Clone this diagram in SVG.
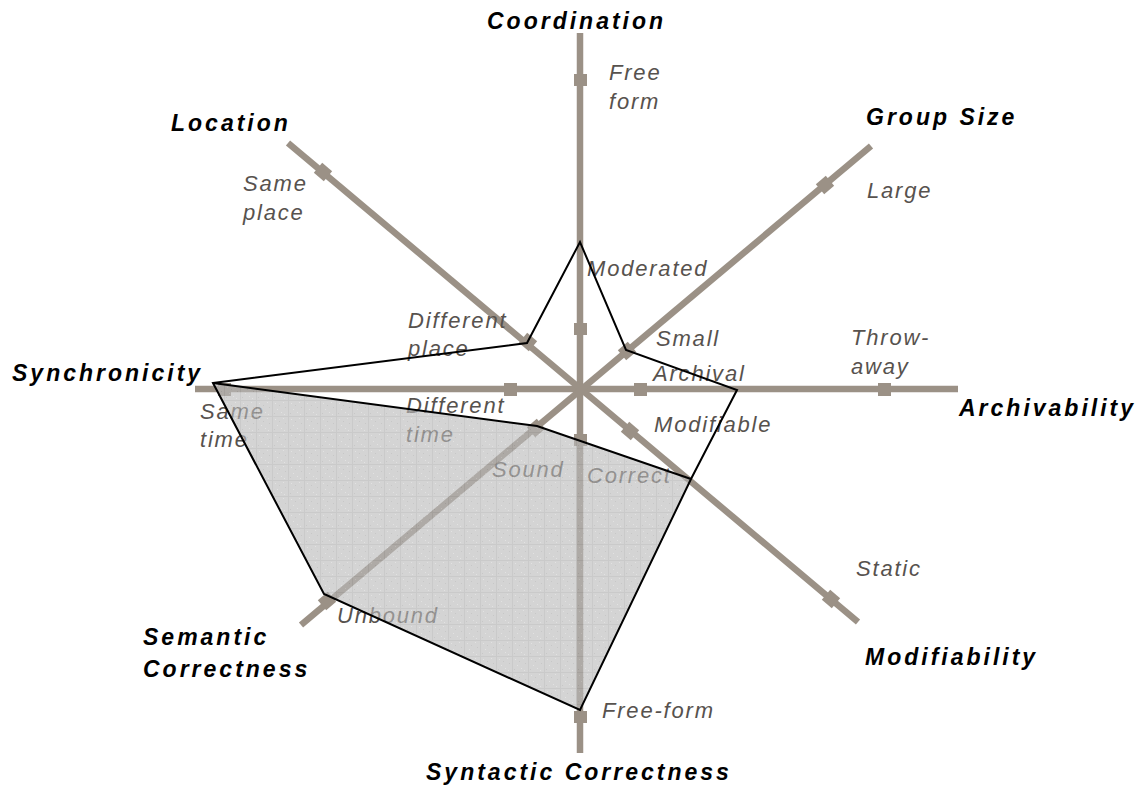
<svg xmlns="http://www.w3.org/2000/svg" width="1141" height="790" viewBox="0 0 1141 790">
  <defs>
    <style>
      .axis { stroke: #9b9186; stroke-width: 6.5; stroke-linecap: butt; fill: none; }
      .mk { fill: #9b9186; }
      .title { font-family: "Liberation Sans", Arial, sans-serif; font-size: 23px; font-weight: bold; font-style: italic; fill: #000; letter-spacing: 3px; }
      .val { font-family: "Liberation Sans", Arial, sans-serif; font-size: 22px; font-style: italic; fill: #57524e; letter-spacing: 1.8px; }
      .outline { fill: none; stroke: #000; stroke-width: 2; stroke-linejoin: miter; }
    </style>
    <pattern id="shade" x="0" y="0" width="16" height="16" patternUnits="userSpaceOnUse">
      <rect width="16" height="16" fill="#bababa"/>
      <rect width="16" height="1" fill="#a9a9a9"/>
      <rect width="1" height="16" fill="#a9a9a9"/>
      <rect x="3" y="3" width="1" height="1" fill="#d0d0d0"/>
      <rect x="7" y="5" width="1" height="1" fill="#a4a4a4"/>
      <rect x="11" y="2" width="1" height="1" fill="#d0d0d0"/>
      <rect x="5" y="9" width="1" height="1" fill="#d0d0d0"/>
      <rect x="13" y="7" width="1" height="1" fill="#a4a4a4"/>
      <rect x="9" y="12" width="1" height="1" fill="#d0d0d0"/>
      <rect x="2" y="13" width="1" height="1" fill="#a4a4a4"/>
      <rect x="12" y="14" width="1" height="1" fill="#d0d0d0"/>
    </pattern>
  </defs>

  <rect width="1141" height="790" fill="#fff"/>

  <!-- axes -->
  <g id="connectors">
    <line class="axis" x1="580" y1="33" x2="580" y2="753"/>
    <line class="axis" x1="195" y1="389" x2="958" y2="389"/>
    <line class="axis" x1="288" y1="143" x2="858" y2="622"/>
    <line class="axis" x1="871" y1="146" x2="301" y2="625"/>
  </g>

  <!-- axis markers -->
  <g id="markers">
    <rect class="mk" x="574" y="74" width="13" height="12"/>
    <rect class="mk" x="574" y="323" width="13" height="12"/>
    <rect class="mk" x="574" y="434" width="13" height="12"/>
    <rect class="mk" x="574" y="711" width="13" height="12"/>
    <rect class="mk" x="634" y="383" width="13" height="13"/>
    <rect class="mk" x="878" y="383" width="13" height="13"/>
    <rect class="mk" x="504" y="383" width="13" height="13"/>
    <rect class="mk" x="218" y="383" width="13" height="13"/>
    <rect class="mk" x="-6.5" y="-6.5" width="13" height="13" transform="translate(323,172) rotate(40)"/>
    <rect class="mk" x="-6.5" y="-6.5" width="13" height="13" transform="translate(528,342) rotate(40)"/>
    <rect class="mk" x="-6.5" y="-6.5" width="13" height="13" transform="translate(630,431) rotate(40)"/>
    <rect class="mk" x="-6.5" y="-6.5" width="13" height="13" transform="translate(831,599) rotate(40)"/>
    <rect class="mk" x="-6.5" y="-6.5" width="13" height="13" transform="translate(825,185) rotate(-40)"/>
    <rect class="mk" x="-6.5" y="-6.5" width="13" height="13" transform="translate(627,351) rotate(-40)"/>
    <rect class="mk" x="-6.5" y="-6.5" width="13" height="13" transform="translate(536,428) rotate(-40)"/>
    <rect class="mk" x="-6.5" y="-6.5" width="13" height="13" transform="translate(327,601) rotate(-40)"/>
  </g>

  <!-- axis titles -->
  <g id="titles">
    <text class="title" x="487" y="29">Coordination</text>
    <text class="title" x="171" y="131">Location</text>
    <text class="title" x="866" y="125">Group Size</text>
    <text class="title" x="12" y="381">Synchronicity</text>
    <text class="title" x="959" y="416">Archivability</text>
    <text class="title" x="143" y="645">Semantic</text>
    <text class="title" x="143" y="677">Correctness</text>
    <text class="title" x="865" y="665">Modifiability</text>
    <text class="title" x="426" y="780">Syntactic Correctness</text>
  </g>

  <!-- value labels -->
  <g id="values">
    <text class="val" x="609" y="80">Free</text>
    <text class="val" x="609" y="109">form</text>
    <text class="val" x="587" y="276">Moderated</text>
    <text class="val" x="867" y="198">Large</text>
    <text class="val" x="656" y="346">Small</text>
    <text class="val" x="653" y="381">Archival</text>
    <text class="val" x="851" y="345">Throw-</text>
    <text class="val" x="851" y="374">away</text>
    <text class="val" x="654" y="432">Modifiable</text>
    <text class="val" x="856" y="576">Static</text>
    <text class="val" x="243" y="191">Same</text>
    <text class="val" x="243" y="220">place</text>
    <text class="val" x="408" y="328">Different</text>
    <text class="val" x="408" y="356">place</text>
    <text class="val" x="200" y="419">Same</text>
    <text class="val" x="200" y="447">time</text>
    <text class="val" x="406" y="413">Different</text>
    <text class="val" x="406" y="442">time</text>
    <text class="val" x="492" y="477">Sound</text>
    <text class="val" x="587" y="483">Correct</text>
    <text class="val" x="337" y="623">Unbound</text>
    <text class="val" x="602" y="718">Free-form</text>
  </g>

  <!-- profile -->
  <g id="profile">
    <polygon points="213,383 537,426 691,479 580,710 324,594" fill="url(#shade)" opacity="0.62"/>
    <polygon class="outline" points="213,383 527,343 580,242 626,350 737,390 691,479 580,710 324,594"/>
    <polyline class="outline" points="213,383 537,426 691,479"/>
  </g>
</svg>
